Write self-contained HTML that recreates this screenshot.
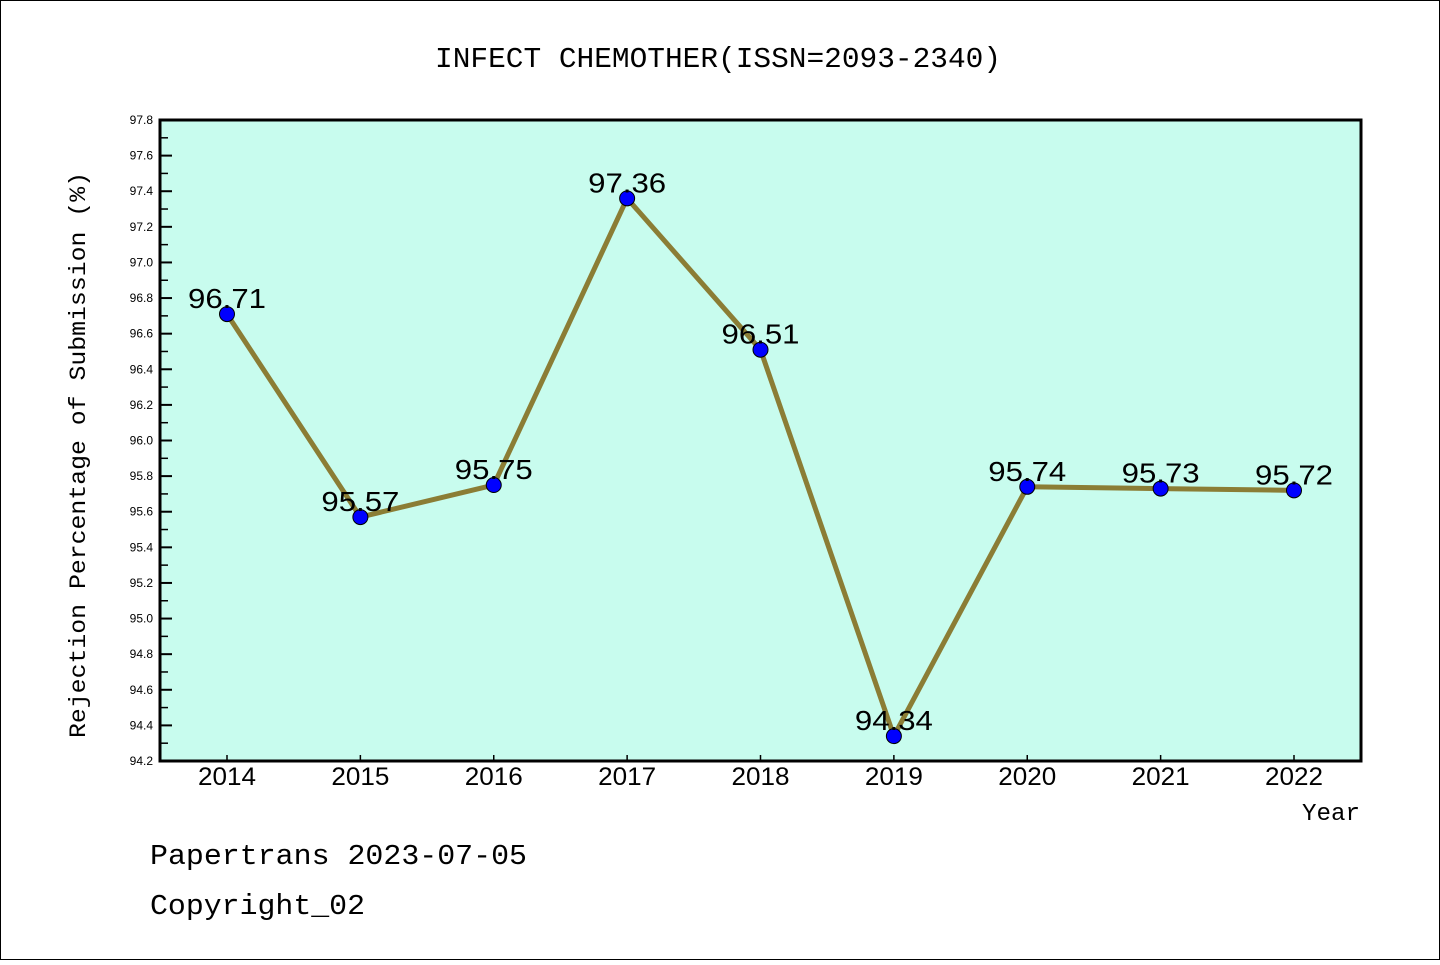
<!DOCTYPE html>
<html><head><meta charset="utf-8"><style>
html,body{margin:0;padding:0;background:#fff}
svg text{font-family:"WenQuanYi Zen Hei","Liberation Sans",sans-serif}
svg text.mono{font-family:"Liberation Mono","WenQuanYi Zen Hei",monospace}
</style></head><body>
<svg id="chart" width="1440" height="960" xmlns="http://www.w3.org/2000/svg">
<rect x="0.5" y="0.5" width="1439" height="959" fill="#fff" stroke="#000" stroke-width="1"/>
<text class="mono" x="718" y="67" font-size="29" text-anchor="middle" textLength="566" lengthAdjust="spacingAndGlyphs">INFECT CHEMOTHER(ISSN=2093-2340)</text>
<rect x="160" y="120" width="1201" height="641" fill="#c8fcee"/>
<g id="yticks"></g><g id="xticks"></g><g id="series"></g>
<rect x="160" y="120" width="1201" height="641" fill="none" stroke="#000" stroke-width="3"/>
<text class="mono" transform="translate(85,455) rotate(-90)" font-size="23" text-anchor="middle" textLength="566" lengthAdjust="spacingAndGlyphs">Rejection Percentage of Submission (%)</text>
<text class="mono" x="1331" y="820" font-size="24" text-anchor="middle" textLength="58" lengthAdjust="spacingAndGlyphs">Year</text>
<text class="mono" x="150" y="864" font-size="29" textLength="377" lengthAdjust="spacingAndGlyphs">Papertrans 2023-07-05</text>
<text class="mono" x="150" y="914" font-size="29" textLength="215" lengthAdjust="spacingAndGlyphs">Copyright_02</text>
</svg>
<script>
const years=["2014","2015","2016","2017","2018","2019","2020","2021","2022"];
const values=[96.71,95.57,95.75,97.36,96.51,94.34,95.74,95.73,95.72];
const yTicks=[94.2,94.4,94.6,94.8,95.0,95.2,95.4,95.6,95.8,96.0,96.2,96.4,96.6,96.8,97.0,97.2,97.4,97.6,97.8];
const NS="http://www.w3.org/2000/svg";
const Y_MIN=94.2,Y_MAX=97.8,PLOT_TOP=120,PLOT_BOT=761;
function yPos(v){return PLOT_BOT-(v-Y_MIN)/(Y_MAX-Y_MIN)*(PLOT_BOT-PLOT_TOP);}
function xPos(i){return 227+i*(1294-227)/(years.length-1);}
function mk(t,a,p){const e=document.createElementNS(NS,t);for(const k in a)e.setAttribute(k,a[k]);p.appendChild(e);return e;}
const yt=document.getElementById('yticks');
yTicks.forEach((v,i)=>{
 const l=mk('line',{x1:160,x2:172,y1:yPos(v),y2:yPos(v),stroke:'#000','stroke-width':2},yt);
 
 
 if(i<yTicks.length-1){const m=(v+yTicks[i+1])/2;const ml=mk('line',{x1:160,x2:168,y1:yPos(m),y2:yPos(m),stroke:'#000','stroke-width':1.5},yt);
 
 }
 const t=mk('text',{x:153,y:yPos(v)+4,'font-size':12,'text-anchor':'end'},yt);
 t.textContent=v.toFixed(1);
 
 
});
const xt=document.getElementById('xticks');
years.forEach((yr,i)=>{
 const l=mk('line',{x1:xPos(i),x2:xPos(i),y1:PLOT_BOT,y2:PLOT_BOT-6,stroke:'#000','stroke-width':1.5},xt);
 
 
 const t=mk('text',{x:xPos(i),y:785,'font-size':25,'text-anchor':'middle',textLength:58,lengthAdjust:'spacingAndGlyphs'},xt);
 t.textContent=yr;
 
 
});
const s=document.getElementById('series');
const pl=mk('polyline',{points:values.map((v,i)=>xPos(i)+','+yPos(v)).join(' '),fill:'none',stroke:'#8b7d35','stroke-width':5,'stroke-linejoin':'round'},s);


values.forEach((v,i)=>{
 const c=mk('circle',{cx:xPos(i),cy:yPos(v),r:7.5,fill:'#0000ff',stroke:'#000','stroke-width':1},s);
 
 
 const t=mk('text',{x:xPos(i),y:yPos(v)-6,'font-size':28,'text-anchor':'middle',textLength:78,lengthAdjust:'spacingAndGlyphs'},s);
 t.textContent=v.toFixed(2);
 
 
});
</script>
</body></html>
